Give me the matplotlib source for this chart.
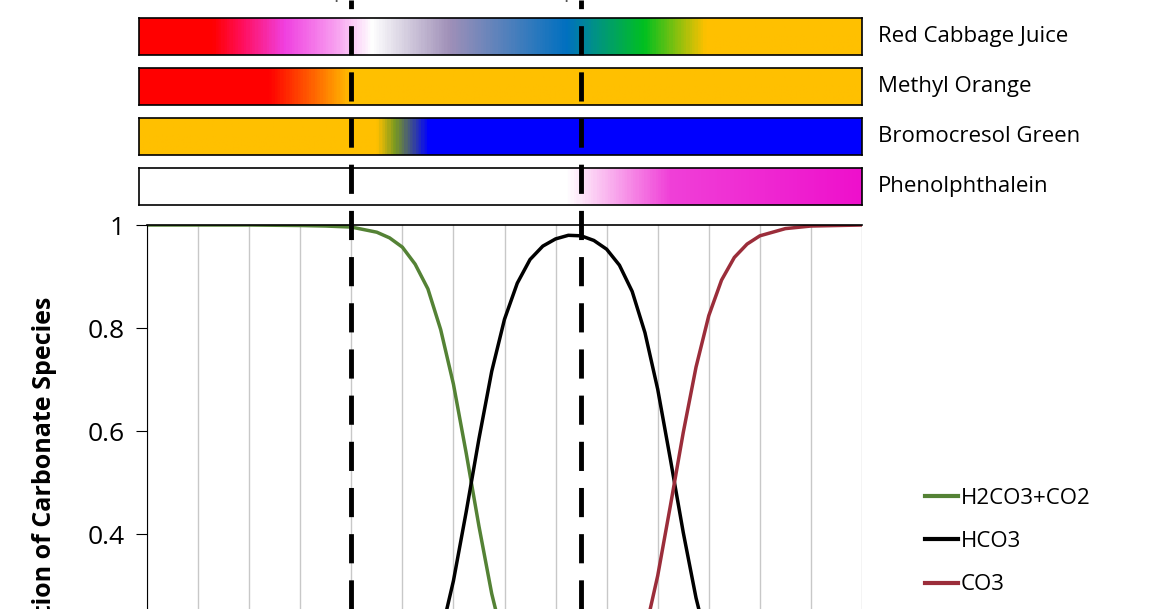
import matplotlib
matplotlib.use("Agg")
import matplotlib.pyplot as plt
from matplotlib.colors import LinearSegmentedColormap, to_rgb
import numpy as np

plt.rcParams['font.family'] = ['Open Sans', 'DejaVu Sans']

# speciation data
ph = [0, 1, 2, 3, 3.5, 4, 4.5, 4.75, 5, 5.25, 5.5, 5.75, 6, 6.25, 6.5, 6.75, 7, 7.25, 7.5, 7.75, 8,
      8.25, 8.5, 8.75, 9, 9.25, 9.5, 9.75, 10, 10.25, 10.5, 10.75, 11, 11.25, 11.5, 11.75, 12, 12.5,
      13, 14]
h2co3 = [1, 1, 1, 0.999, 0.998, 0.996, 0.986, 0.975, 0.957, 0.924, 0.876, 0.797, 0.691, 0.557,
         0.415, 0.284, 0.183, 0.112, 0.066, 0.038, 0.022, 0.012, 0.007, 0.004, 0.002, 0.001, 0,
         0, 0, 0, 0, 0, 0, 0, 0, 0, 0, 0, 0, 0]
co3 = [0, 0, 0, 0, 0, 0, 0, 0, 0, 0, 0, 0, 0, 0, 0, 0, 0.0004, 0.001, 0.001, 0.003, 0.005, 0.008,
       0.014, 0.026, 0.045, 0.077, 0.129, 0.209, 0.319, 0.456, 0.597, 0.724, 0.824, 0.893, 0.937,
       0.963, 0.979, 0.993, 0.998, 1]
hco3 = [0, 0, 0, 0.001, 0.002, 0.004, 0.014, 0.025, 0.043, 0.076, 0.124, 0.203, 0.309, 0.443,
        0.585, 0.716, 0.817, 0.887, 0.933, 0.959, 0.973, 0.980, 0.979, 0.970, 0.953, 0.922, 0.871,
        0.791, 0.681, 0.544, 0.403, 0.276, 0.176, 0.107, 0.063, 0.037, 0.021, 0.007, 0.002, 0]

names = ['Red Cabbage Juice', 'Methyl Orange', 'Bromocresol Green', 'Phenolphthalein']
stops = [
    [(0, '#ff0000'), (1.4, '#ff0000'), (2.0, '#ff1060'), (2.8, '#f040e0'), (3.8, '#f8a0f0'),
     (4.5, '#ffffff'), (6.0, '#a090b8'), (8.3, '#0070c0'), (8.8, '#00908a'), (9.8, '#00c020'),
     (11.0, '#ffc000'), (14, '#ffc000')],
    [(0, '#ff0000'), (2.5, '#ff0000'), (3.4, '#ff6a00'), (4.1, '#ffc000'), (14, '#ffc000')],
    [(0, '#ffc000'), (4.6, '#ffc000'), (4.95, '#7a9a20'), (5.6, '#0000ff'), (14, '#0000ff')],
    [(0, '#ffffff'), (8.3, '#ffffff'), (8.8, '#fcd0f4'), (10.3, '#f040d8'), (14, '#ee10cc')],
]
endpoints = [4.0, 8.5]

fig = plt.figure(figsize=(11.59, 6.09), dpi=100)
W, H = 1159, 609

# colour bars
bar_rows = [(18, 55), (68, 105), (118, 155), (168, 205)]
for (y0, y1), name, st in zip(bar_rows, names, stops):
    bx = fig.add_axes([139 / W, 1 - y1 / H, (862 - 139) / W, (y1 - y0) / H])
    cm = LinearSegmentedColormap.from_list(name, [(p / 14, to_rgb(c)) for p, c in st])
    grid = np.linspace(0, 1, 600).reshape(1, -1)
    bx.imshow(grid, aspect='auto', cmap=cm, extent=[-0.16, 14, 0, 1])
    bx.set_xticks([])
    bx.set_yticks([])
    for s in bx.spines.values():
        s.set_linewidth(1.2)
    fig.text(878 / W, 1 - (y0 + y1) / 2 / H, name, fontsize=16, va='center', ha='left')

# main chart, its bottom runs past the figure edge
ax = fig.add_axes([147 / W, 1 - 740 / H, 715 / W, 515 / H])
ax.plot(ph, h2co3, color='#548235', lw=2.5, label='H2CO3+CO2')
ax.plot(ph, hco3, color='black', lw=2.5, label='HCO3')
ax.plot(ph, co3, color='#9b2d3a', lw=2.5, label='CO3')
ax.set_xlim(0, 14)
ax.set_ylim(0, 1)
ax.set_xticks(np.arange(0, 15, 1))
ax.set_yticks([0, 0.2, 0.4, 0.6, 0.8, 1])
ax.set_yticklabels(['0', '0.2', '0.4', '0.6', '0.8', '1'])
ax.grid(axis='x', color='#c8c8c8', lw=1)
ax.tick_params(axis='y', labelsize=19, length=8, direction='out', pad=8)
ax.tick_params(axis='x', labelbottom=False, length=0)
ax.spines['right'].set_visible(False)
ax.spines['top'].set_linewidth(1.2)
ax.set_ylabel('Fraction of Carbonate Species', fontsize=18, fontweight='bold', labelpad=22)
fig.legend(loc='upper left', bbox_to_anchor=(905 / W, 1 - 468 / H), frameon=False,
           fontsize=16, handlelength=1.5, handletextpad=0.1, labelspacing=1.0)
for line in fig.legends[0].get_lines():
    line.set_linewidth(3)

# dashed endpoint lines across the whole figure
ov = fig.add_axes([147 / W, 0, 715 / W, 1])
ov.set_xlim(0, 14)
ov.set_ylim(0, 1)
ov.axis('off')
ov.patch.set_alpha(0)
for e, lab in zip(endpoints, ['pK$_1$', 'pK$_2$']):
    ov.axvline(e, color='black', lw=3.5, dashes=(6, 3.5))
    ov.text(e, 0.993, lab, ha='center', va='bottom', fontsize=15, color='#555555')

fig.savefig('out.png', dpi=100)
